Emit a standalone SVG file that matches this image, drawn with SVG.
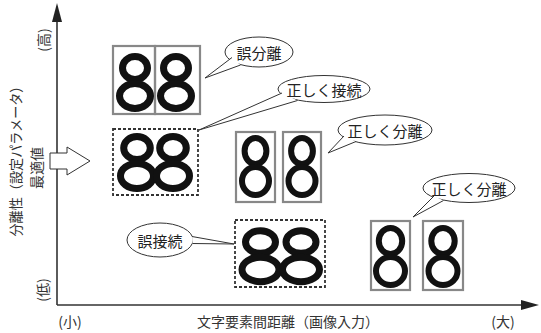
<svg xmlns="http://www.w3.org/2000/svg" width="541" height="333" viewBox="0 0 541 333">
<defs>
<style>
.axis{stroke:#333;stroke-width:1.6;fill:none}
.ah{fill:#222}
.lbl{font-family:"Noto Sans CJK JP","Noto Sans",sans-serif;fill:#333;font-size:14px}
.btxt{font-family:"Noto Sans CJK JP","Noto Sans",sans-serif;fill:#222;font-size:15px;text-anchor:middle;dominant-baseline:central}
.gbox{fill:none;stroke:#888;stroke-width:2.2}
.dbox{fill:none;stroke:#333;stroke-width:1.8;stroke-dasharray:3 2}
.e6{fill:none;stroke:#111;stroke-width:7}
.e5{fill:none;stroke:#111;stroke-width:6}
.bub{fill:#fff;stroke:#333;stroke-width:1}
</style>
</defs>
<rect width="541" height="333" fill="#fff"/>

<g id="axes">
<line class="axis" x1="57" y1="20" x2="57" y2="305"/>
<line class="axis" x1="57" y1="305" x2="523" y2="305"/>
<polygon class="ah" points="57,3 52,22 62,22"/>
<polygon class="ah" points="539,305 521,300 521,310"/>
<polygon points="50,153 67,153 67,147 90,161 67,175 67,169 50,169" fill="#fff" stroke="#333" stroke-width="1"/>
</g>

<g id="axis-labels">
<text class="lbl" text-anchor="middle" transform="translate(15,158) rotate(-90)" dominant-baseline="central" textLength="157" lengthAdjust="spacingAndGlyphs">分離性（設定パラメータ）</text>
<text class="lbl" text-anchor="middle" transform="translate(36,168) rotate(-90)" dominant-baseline="central">最適値</text>
<text class="lbl" text-anchor="middle" transform="translate(43,40) rotate(-90)" dominant-baseline="central">(高)</text>
<text class="lbl" text-anchor="middle" transform="translate(42,290) rotate(-90)" dominant-baseline="central">(低)</text>
<text class="lbl" x="70" y="321" text-anchor="middle" dominant-baseline="central" font-size="15">(小)</text>
<text class="lbl" x="288" y="321" text-anchor="middle" dominant-baseline="central" font-size="15">文字要素間距離（画像入力）</text>
<text class="lbl" x="503" y="321" text-anchor="middle" dominant-baseline="central" font-size="15">(大)</text>
</g>

<g id="n-mis-separate">
<rect class="gbox" x="113" y="46" width="42" height="68"/>
<rect class="gbox" x="155" y="46" width="45" height="68"/>
<ellipse class="e6" cx="135" cy="68" rx="12.5" ry="11.5"/>
<ellipse class="e6" cx="135" cy="96" rx="15.5" ry="12.5"/>
<ellipse class="e6" cx="176" cy="68" rx="12.5" ry="11.5"/>
<ellipse class="e6" cx="176" cy="96" rx="15.5" ry="12.5"/>
</g>

<g id="n-correct-connect">
<rect class="dbox" x="113" y="129" width="85" height="66"/>
<ellipse class="e6" cx="137" cy="148" rx="13.3" ry="11.5"/>
<ellipse class="e6" cx="137" cy="176" rx="16.5" ry="12.5"/>
<ellipse class="e6" cx="173" cy="148" rx="13.3" ry="11.5"/>
<ellipse class="e6" cx="173" cy="176" rx="16.5" ry="12.5"/>
</g>

<g id="n-correct-separate-1">
<rect class="gbox" x="236" y="132" width="39" height="70"/>
<rect class="gbox" x="283" y="132" width="38" height="70"/>
<ellipse class="e5" cx="255.5" cy="151" rx="10.9" ry="13.1"/>
<ellipse class="e5" cx="255.5" cy="181" rx="13.5" ry="14"/>
<ellipse class="e5" cx="302" cy="151" rx="10.9" ry="13.1"/>
<ellipse class="e5" cx="302" cy="181" rx="13.5" ry="14"/>
</g>

<g id="n-mis-connect">
<rect class="dbox" x="235" y="220" width="90" height="67"/>
<ellipse class="e6" cx="260.5" cy="242" rx="15" ry="11.3"/>
<ellipse class="e6" cx="260.5" cy="269.5" rx="18.5" ry="12.2"/>
<ellipse class="e6" cx="301" cy="242" rx="15" ry="11.3"/>
<ellipse class="e6" cx="301" cy="269.5" rx="18.5" ry="12.2"/>
</g>

<g id="n-correct-separate-2">
<rect class="gbox" x="371" y="221" width="39" height="69"/>
<rect class="gbox" x="423" y="221" width="40" height="69"/>
<ellipse class="e5" cx="390.5" cy="241" rx="11.7" ry="13.1"/>
<ellipse class="e5" cx="390.5" cy="271" rx="14.5" ry="14"/>
<ellipse class="e5" cx="443" cy="241" rx="11.7" ry="13.1"/>
<ellipse class="e5" cx="443" cy="271" rx="14.5" ry="14"/>
</g>

<g id="callouts">
<g id="c-mis-separate">
<ellipse class="bub" cx="259" cy="52" rx="34" ry="15"/>
<path class="bub" d="M232,57.5 L205,78 L240.5,65"/>
<text class="btxt" x="259" y="52">誤分離</text>
</g>
<g id="c-correct-connect">
<ellipse class="bub" cx="324" cy="89" rx="46" ry="13.5"/>
<path class="bub" d="M282,93 L199,130 L297.5,100.5"/>
<text class="btxt" x="324" y="89">正しく接続</text>
</g>
<g id="c-correct-separate-1">
<ellipse class="bub" cx="385" cy="130" rx="47" ry="15"/>
<path class="bub" d="M344,136 L328,153 L356,141.5"/>
<text class="btxt" x="385" y="130">正しく分離</text>
</g>
<g id="c-correct-separate-2">
<ellipse class="bub" cx="469" cy="188" rx="46" ry="14.5"/>
<path class="bub" d="M434,196 L413,217 L443.5,200.5"/>
<text class="btxt" x="469" y="188">正しく分離</text>
</g>
<g id="c-mis-connect">
<ellipse class="bub" cx="160" cy="240" rx="33" ry="17"/>
<path class="bub" d="M192,236.5 L234,244 L192.5,243.5"/>
<text class="btxt" x="160" y="240">誤接続</text>
</g>
</g>
</svg>
